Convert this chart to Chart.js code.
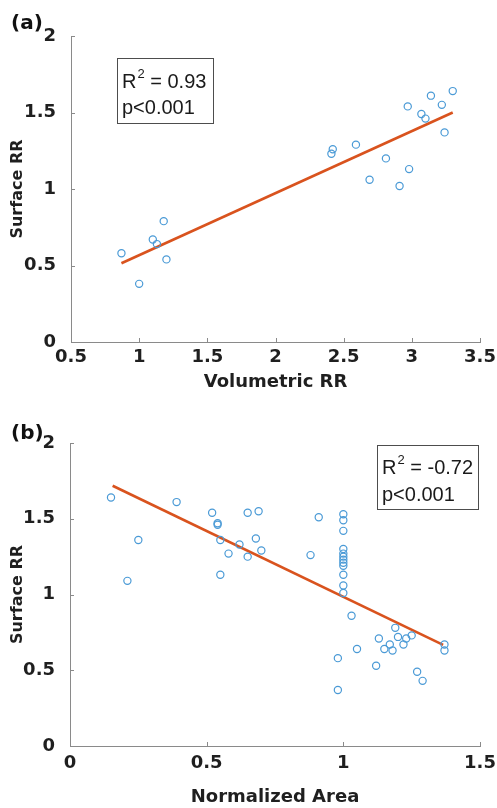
<!DOCTYPE html>
<html>
<head>
<meta charset="utf-8">
<script src="https://cdn.jsdelivr.net/npm/chart.js@4"></script>
<style>
  body { margin: 0; background: #fff; }
  canvas { display: block; }
</style>
</head>
<body>
<canvas id="chartA" width="497" height="404"></canvas>
<canvas id="chartB" width="497" height="404"></canvas>
<script>
// (a) surface RR vs volumetric RR
const volRR = [0.87, 1.00, 1.10, 1.13, 1.18, 1.20, 2.41, 2.42, 2.59, 2.69,
  2.81, 2.91, 2.98, 2.97, 3.07, 3.10, 3.14, 3.22, 3.24, 3.30];
const surfA = [0.58, 0.38, 0.67, 0.64, 0.79, 0.54, 1.23, 1.26, 1.29, 1.06,
  1.20, 1.02, 1.13, 1.54, 1.49, 1.46, 1.61, 1.55, 1.37, 1.64];
const fitAx = [0.87, 3.30];
const fitAy = [0.515, 1.50];

// (b) surface RR vs normalized area
const normArea = [0.15, 0.39, 0.52, 0.54, 0.54, 0.65, 0.69, 0.25, 0.55, 0.62,
  0.68, 0.70, 0.58, 0.65, 0.55, 0.21, 0.91, 0.88,
  1, 1, 1, 1, 1, 1, 1, 1, 1, 1, 1, 1,
  1.03, 1.13, 1.19, 1.20, 1.23, 1.25, 1.17, 1.15, 1.18, 1.22, 1.05, 0.98,
  1.12, 1.27, 1.29, 0.98, 1.37, 1.37];
const surfB = [1.64, 1.61, 1.54, 1.47, 1.46, 1.54, 1.55, 1.36, 1.36, 1.33,
  1.37, 1.29, 1.27, 1.25, 1.13, 1.09, 1.51, 1.26,
  1.53, 1.49, 1.42, 1.30, 1.27, 1.25, 1.23, 1.21, 1.19, 1.13, 1.06, 1.01,
  0.86, 0.71, 0.78, 0.72, 0.71, 0.73, 0.67, 0.64, 0.63, 0.67, 0.64, 0.58,
  0.53, 0.49, 0.43, 0.37, 0.67, 0.63];
const fitBx = [0.156, 1.365];
const fitBy = [1.718, 0.668];

const yTicks = [0, 0.5, 1, 1.5, 2];
const axisColor = '#8a8a8a';
const textColor = '#1f1f1f';

Chart.defaults.font.family = 'DejaVu Sans';

const innerTicks = {
  id: 'innerTicks',
  afterDraw(chart) {
    const {ctx, chartArea, scales} = chart;
    ctx.save();
    ctx.strokeStyle = axisColor;
    ctx.lineWidth = 1;
    ctx.beginPath();
    scales.x.ticks.forEach(t => {
      const px = Math.round(scales.x.getPixelForValue(t.value)) + 0.5;
      ctx.moveTo(px, chartArea.bottom);
      ctx.lineTo(px, chartArea.bottom - 4);
    });
    scales.y.ticks.forEach(t => {
      const py = Math.round(scales.y.getPixelForValue(t.value)) + 0.5;
      ctx.moveTo(chartArea.left, py);
      ctx.lineTo(chartArea.left + 4, py);
    });
    ctx.stroke();
    ctx.restore();
  }
};

const statBox = {
  id: 'statBox',
  afterDraw(chart, args, opts) {
    const {ctx, chartArea} = chart;
    const bx = chartArea.left + opts.dx, by = chartArea.top + opts.dy;
    ctx.save();
    ctx.fillStyle = '#fff';
    ctx.fillRect(bx, by, opts.w, opts.h);
    ctx.strokeStyle = '#4d4d4d';
    ctx.lineWidth = 1;
    ctx.strokeRect(bx + 0.5, by + 0.5, opts.w, opts.h);
    ctx.fillStyle = '#1a1a1a';
    ctx.textBaseline = 'middle';
    ctx.font = '20px "Liberation Sans"';
    const tx = bx + 5;
    ctx.fillText('R', tx, by + opts.l1);
    const rw = ctx.measureText('R').width;
    ctx.font = '13px "Liberation Sans"';
    ctx.fillText('2', tx + rw + 1, by + opts.l1 - 8);
    const sw = ctx.measureText('2').width;
    ctx.font = '20px "Liberation Sans"';
    ctx.fillText(' = ' + opts.r2, tx + rw + sw + 1, by + opts.l1);
    ctx.fillText('p<0.001', tx, by + opts.l2);
    ctx.restore();
  }
};

function makeChart(id, xs, ys, fx, fy, xr, xTitle, lay) {
  const pts = xs.map((x, i) => ({x: x, y: ys[i]}));
  const line = fx.map((x, i) => ({x: x, y: fy[i]}));
  return new Chart(document.getElementById(id), {
    type: 'scatter',
    data: {
      datasets: [{
        data: pts,
        pointStyle: 'circle',
        pointRadius: 3.6,
        borderColor: '#4a9ad6',
        backgroundColor: 'rgba(0,0,0,0)',
        borderWidth: 1.2
      }, {
        type: 'line',
        data: line,
        borderColor: '#d9531e',
        borderWidth: 2.6,
        pointRadius: 0,
        fill: false
      }]
    },
    options: {
      responsive: false,
      animation: false,
      layout: {padding: {top: lay.top, right: 17, left: 0, bottom: 0}},
      plugins: {
        legend: {display: false},
        tooltip: {enabled: false},
        statBox: lay.box
      },
      scales: {
        x: {
          type: 'linear',
          min: xr[0], max: xr[1],
          afterBuildTicks: s => { s.ticks = xr[2].map(v => ({value: v})); },
          afterFit: s => { s.height = 62; },
          // invisible tick space pushes labels down without widening the right gap
          grid: {
            display: true, drawOnChartArea: false,
            tickLength: lay.tickLen, color: 'rgba(0,0,0,0)'
          },
          border: {display: true, color: axisColor, width: 1},
          ticks: {
            color: textColor, padding: 0, maxRotation: 0,
            font: {size: 18, weight: 'bold'},
            callback: v => String(+v.toFixed(2))
          },
          title: {
            display: true, text: xTitle, color: textColor,
            font: {size: 18, weight: 'bold'},
            padding: {top: 0, bottom: lay.tPad}
          }
        },
        y: {
          type: 'linear',
          min: 0, max: 2,
          afterBuildTicks: s => { s.ticks = yTicks.map(v => ({value: v})); },
          afterFit: s => { s.width = lay.left; },
          grid: {display: false},
          border: {display: true, color: axisColor, width: 1},
          ticks: {
            color: textColor, padding: 7,
            font: {size: 18, weight: 'bold'},
            callback: v => String(+v.toFixed(2))
          },
          title: {
            display: true, text: 'Surface RR', color: textColor,
            font: {size: 16, weight: 'bold'},
            padding: {top: 8, bottom: 0}
          }
        }
      }
    },
    plugins: [innerTicks, statBox, {
      id: 'panelTag',
      afterDraw(chart) {
        const ctx = chart.ctx;
        ctx.save();
        ctx.fillStyle = '#111';
        ctx.font = 'bold 20px "DejaVu Sans"';
        ctx.textBaseline = 'middle';
        ctx.fillText(lay.tag, 11, lay.tagY);
        ctx.restore();
      }
    }]
  });
}

makeChart('chartA', volRR, surfA, fitAx, fitAy,
  [0.5, 3.5, [0.5, 1, 1.5, 2, 2.5, 3, 3.5]], 'Volumetric RR',
  {top: 36, left: 71, tickLen: 5, tPad: 11, tag: '(a)', tagY: 24,
   box: {dx: 46, dy: 22, w: 96, h: 65, l1: 24, l2: 50, r2: '0.93'}});

makeChart('chartB', normArea, surfB, fitBx, fitBy,
  [0, 1.5, [0, 0.5, 1, 1.5]], 'Normalized Area',
  {top: 39, left: 70, tickLen: 7, tPad: 0, tag: '(b)', tagY: 30,
   box: {dx: 307, dy: 2, w: 101, h: 64, l1: 23, l2: 50, r2: '-0.72'}});
</script>
</body>
</html>
